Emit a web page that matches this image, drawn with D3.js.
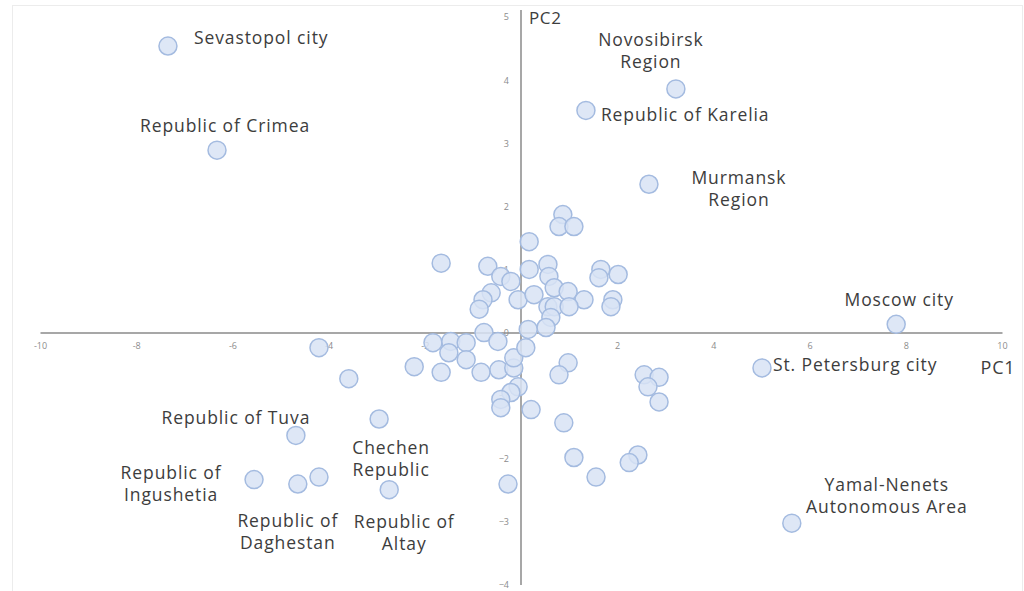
<!DOCTYPE html>
<html>
<head>
<meta charset="utf-8">
<script src="https://cdn.jsdelivr.net/npm/d3@7"></script>
<style>
  html, body { margin: 0; padding: 0; background: #fff; }
  svg { display: block; }
  text { font-family: "Open Sans", sans-serif; }
</style>
</head>
<body>
<svg id="chart" width="1024" height="591"></svg>
<script>
// Principal component scores of Russian regions (PC1, PC2)
const pc1 = [
  0.87, 0.79, 1.10, 0.17, -1.66, -0.69, -0.42, -0.21, 0.17, 0.56,
  0.58, 0.69, 1.66, 2.02, 1.62, 1.91, 1.87, -0.62, -0.79, -0.87,
  -0.06, 0.27, 0.98, 1.31, 0.56, 0.69, 1.00, 0.62, 0.52, 0.15,
  -0.77, -1.83, -1.46, -1.14, -0.48, -1.50, -1.14, -2.22, -1.66, -0.83,
  -0.46, -0.15, -0.15, 0.10, -0.06, -0.21, -0.42, -0.42, 0.21, 0.98,
  0.79, 0.89, 2.56, 2.87, 2.64, 2.87, 1.10, 2.43, 2.25, 1.56,
  -0.27, -4.20, -3.58
];
const pc2 = [
  1.87, 1.68, 1.68, 1.44, 1.10, 1.05, 0.89, 0.81, 1.00, 1.08,
  0.89, 0.71, 1.00, 0.92, 0.87, 0.52, 0.41, 0.63, 0.52, 0.37,
  0.52, 0.60, 0.65, 0.52, 0.41, 0.41, 0.41, 0.24, 0.08, 0.05,
  0.00, -0.16, -0.14, -0.16, -0.14, -0.32, -0.43, -0.54, -0.63, -0.63,
  -0.59, -0.56, -0.40, -0.24, -0.86, -0.95, -1.06, -1.19, -1.22, -0.48,
  -0.67, -1.43, -0.67, -0.71, -0.86, -1.10, -1.98, -1.94, -2.06, -2.29,
  -2.40, -0.24, -0.73
];

// Named regions
const regionNames = [
  "Sevastopol city", "Republic of Crimea", "Novosibirsk Region", "Republic of Karelia",
  "Murmansk Region", "Moscow city", "St. Petersburg city", "Yamal-Nenets Autonomous Area",
  "Republic of Tuva", "Republic of Ingushetia", "Republic of Daghestan", "Chechen Republic",
  "Republic of Altay", "Republic of Daghestan 2"
];
const regionPC1 = [-7.34, -6.32, 3.22, 1.35, 2.66, 7.80, 5.01, 5.63, -4.68, -5.55, -4.64, -2.95, -2.74, -4.20];
const regionPC2 = [4.54, 2.89, 3.86, 3.52, 2.35, 0.13, -0.56, -3.02, -1.63, -2.33, -2.40, -1.37, -2.49, -2.29];

const xTicks = [-10, -8, -6, -4, -2, 0, 2, 4, 6, 8, 10];
const yTicks = [-4, -3, -2, -1, 0, 1, 2, 3, 4, 5];

// Label layout: text lines, offset of the first line from the point, anchor
const lineGap = 22;
const labelLayout = {
  "Sevastopol city": { lines: ["Sevastopol city"], dx: 26, dy: -7, anchor: "start" },
  "Republic of Crimea": { lines: ["Republic of Crimea"], dx: 8, dy: -23, anchor: "middle" },
  "Novosibirsk Region": { lines: ["Novosibirsk", "Region"], dx: -25, dy: -48, anchor: "middle" },
  "Republic of Karelia": { lines: ["Republic of Karelia"], dx: 15, dy: 6, anchor: "start" },
  "Murmansk Region": { lines: ["Murmansk", "Region"], dx: 90, dy: -5, anchor: "middle" },
  "Moscow city": { lines: ["Moscow city"], dx: 3, dy: -23, anchor: "middle" },
  "St. Petersburg city": { lines: ["St. Petersburg city"], dx: 11, dy: -2, anchor: "start" },
  "Yamal-Nenets Autonomous Area": { lines: ["Yamal-Nenets", "Autonomous Area"], dx: 95, dy: -37, anchor: "middle" },
  "Republic of Tuva": { lines: ["Republic of Tuva"], dx: -60, dy: -16, anchor: "middle" },
  "Republic of Ingushetia": { lines: ["Republic of", "Ingushetia"], dx: -83, dy: -6, anchor: "middle" },
  "Republic of Daghestan": { lines: ["Republic of", "Daghestan"], dx: -10, dy: 38, anchor: "middle" },
  "Chechen Republic": { lines: ["Chechen", "Republic"], dx: 12, dy: 30, anchor: "middle" },
  "Republic of Altay": { lines: ["Republic of", "Altay"], dx: 15, dy: 33, anchor: "middle" }
};

const svg = d3.select("#chart");

// faint chart-area frame
svg.append("rect")
  .attr("x", 12.5).attr("y", 5.5).attr("width", 1010).attr("height", 590)
  .attr("fill", "none").attr("stroke", "#ececec").attr("stroke-width", 1);

const x = d3.scaleLinear().domain([-10, 10]).range([40, 1002]);
const y = d3.scaleLinear().domain([-4, 5]).range([585, 17]);

// Axes crossing at the origin
const axisColor = "#8a8a8a";
const xAxis = d3.axisBottom(x).tickValues(xTicks).tickSize(0).tickPadding(10);
const gx = svg.append("g").attr("transform", `translate(0,${y(0)})`).call(xAxis);
gx.select(".domain").attr("stroke", axisColor).attr("stroke-width", 1.5);
gx.selectAll(".tick text").attr("fill", "#8c8c8c").attr("font-size", 9)
  .text(d => d === 0 ? "" : d);

const yAxis = d3.axisLeft(y).tickValues(yTicks).tickSize(0).tickPadding(12);
const gy = svg.append("g").attr("transform", `translate(${x(0)},0)`).call(yAxis);
gy.select(".domain").attr("stroke", axisColor).attr("stroke-width", 1.5)
  .attr("d", `M0,${y(5) - 7}V${y(-4)}`);
gy.selectAll(".tick text").attr("fill", "#8c8c8c").attr("font-size", 9);

// Points
const pts = pc1.map((v, i) => ({ x: v, y: pc2[i] }))
  .concat(regionPC1.map((v, i) => ({ x: v, y: regionPC2[i] })));

svg.append("g").selectAll("circle").data(pts).join("circle")
  .attr("cx", d => x(d.x))
  .attr("cy", d => y(d.y))
  .attr("r", 9)
  .attr("fill", "#d8e3f4")
  .attr("fill-opacity", 0.85)
  .attr("stroke", "#a4bbe0")
  .attr("stroke-width", 1.5);

// Region labels (multi-line labels as one text with tspans)
const lab = svg.append("g").attr("fill", "#3d3d3d").attr("font-size", 17.5)
  .attr("letter-spacing", 0.9);
regionNames.forEach((name, i) => {
  const L = labelLayout[name];
  if (!L) return;
  const px = x(regionPC1[i]) + L.dx;
  const t = lab.append("text")
    .attr("x", px)
    .attr("y", y(regionPC2[i]) + L.dy)
    .attr("dominant-baseline", "middle")
    .attr("text-anchor", L.anchor);
  L.lines.forEach((line, j) => {
    t.append("tspan")
      .attr("x", px)
      .attr("dy", j === 0 ? 0 : lineGap)
      .attr("dominant-baseline", "middle")
      .text(line);
  });
});

// Axis titles
svg.append("text").attr("x", 998).attr("y", 369).attr("text-anchor", "middle")
  .attr("dominant-baseline", "middle").attr("font-size", 18).attr("letter-spacing", 0.8)
  .attr("fill", "#3d3d3d").text("PC1");
svg.append("text").attr("x", 529).attr("y", 19)
  .attr("dominant-baseline", "middle").attr("font-size", 17).attr("letter-spacing", 0.6)
  .attr("fill", "#3d3d3d").text("PC2");
</script>
</body>
</html>
